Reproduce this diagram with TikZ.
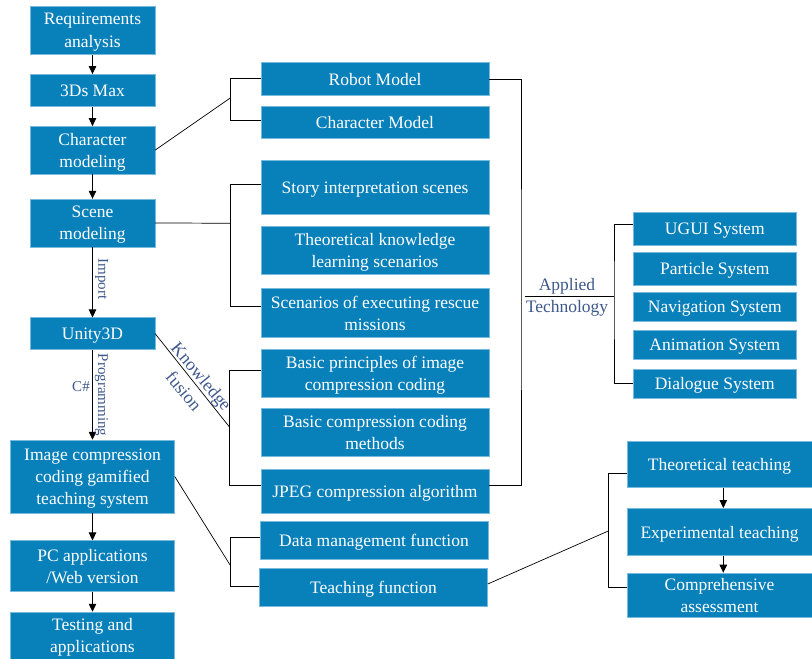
\documentclass[tikz,border=0pt]{standalone}
\usepackage{fontspec}
\setmainfont{Liberation Serif}
\usetikzlibrary{arrows.meta,calc}
\definecolor{boxblue}{RGB}{8,128,186}
\definecolor{boxedge}{RGB}{120,185,222}
\definecolor{labelblue}{RGB}{62,88,140}
\begin{document}
\begin{tikzpicture}[x=1pt,y=-1pt,
  box/.style={fill=boxblue, draw=boxedge, line width=0.5pt, text=white,
    align=center, inner sep=0pt, text depth=0pt,
    font=\fontsize{17.5}{22.3}\selectfont},
  link/.style={draw=black, line width=0.7pt},
  flow/.style={link, -{Triangle[length=8pt,width=7.5pt]}},
  tag/.style={text=labelblue, inner sep=0pt, font=\fontsize{15}{18}\selectfont},
  bigtag/.style={text=labelblue, inner sep=0pt, align=center,
    font=\fontsize{17.5}{22.3}\selectfont}]
\useasboundingbox (0,0) rectangle (812,659);

% main development flow (left column)
\node[box, minimum width=124.5pt, minimum height=48.3pt] (req) at (92.5,30.2) {Requirements\\analysis};
\node[box, minimum width=124.5pt, minimum height=32.4pt] (max) at (92.5,90.5) {3Ds Max};
\node[box, minimum width=124.5pt, minimum height=47.7pt] (char) at (92.5,150.2) {Character\\modeling};
\node[box, minimum width=124.5pt, minimum height=47.7pt] (scene) at (92.5,222.9) {Scene\\modeling};
\node[box, minimum width=124.5pt, minimum height=31.6pt] (unity) at (92.5,333.5) {Unity3D};
\node[box, minimum width=164pt, minimum height=73pt] (gam) at (92.5,476.5) {Image compression\\coding gamified\\teaching system};
\node[box, minimum width=164pt, minimum height=51pt] (pc) at (92.5,566.2) {PC applications\\/Web version};
\node[box, minimum width=164pt, minimum height=47pt] (test) at (92.5,635.5) {Testing and\\applications};

\draw[flow] (req) -- (max);
\draw[flow] (max) -- (char);
\draw[flow] (char) -- (scene);
\draw[flow] (scene) -- (unity);
\draw[flow] (unity) -- (gam);
\draw[flow] (gam) -- (pc);
\draw[flow] (pc) -- (test);

\node[tag, rotate=-90] (imp) at (101.7,279) {Import};
\node[tag, rotate=-90] (prog) at (101.5,395) {Programming};
\node[tag] (cs) at (81,387) {C\#};

% middle column
\node[box, minimum width=228pt, minimum height=33pt] (robot) at (375,79.2) {Robot Model};
\node[box, minimum width=228pt, minimum height=31.6pt] (charm) at (375,122.5) {Character Model};
\node[box, minimum width=228pt, minimum height=54.7pt] (story) at (375,187.3) {Story interpretation scenes};
\node[box, minimum width=228pt, minimum height=47.3pt] (theo) at (375,250.3) {Theoretical knowledge\\learning scenarios};
\node[box, minimum width=228pt, minimum height=48.6pt] (rescue) at (375,313) {Scenarios of executing rescue\\missions};
\node[box, minimum width=228pt, minimum height=48.7pt] (basic) at (375,373.3) {Basic principles of image\\compression coding};
\node[box, minimum width=228pt, minimum height=48.4pt] (meth) at (375,432.5) {Basic compression coding\\methods};
\node[box, minimum width=228pt, minimum height=43.3pt] (jpeg) at (375,491.3) {JPEG compression algorithm};
\node[box, minimum width=228pt, minimum height=38pt] (data) at (374,540.3) {Data management function};
\node[box, minimum width=228pt, minimum height=38pt] (teach) at (373.5,587.7) {Teaching function};

% brackets from the left column
\coordinate (cb) at (230.7,97.7);
\draw[link] (char.east) -- (cb);
\draw[link] ($(robot.west)+(0,-0.9)$) -| (cb) |- ($(charm.west)+(0,-2.5)$);

\coordinate (sb) at (230.7,223.3);
\draw[link] (scene.east) -- (sb);
\draw[link] ($(story.west)+(0,-3)$) -| (sb) |- ($(rescue.west)+(0,-7)$);

\coordinate (kb) at (229.7,427.3);
\draw[link] (unity.east) -- (kb);
\draw[link] ($(basic.west)+(0,-2.6)$) -| (kb) |- ($(jpeg.west)+(0,-5.6)$);
\node[bigtag, rotate=-50, font=\fontsize{18}{23}\selectfont] (kf) at (192.8,383.7) {Knowledge\\fusion};

\coordinate (tb) at (230.3,565.3);
\draw[link] (gam.east) -- (tb);
\draw[link] ($(data.west)+(0,-2.6)$) -| (tb) |- ($(teach.west)+(0,-1.7)$);

% applied technology
\node[box, minimum width=163pt, minimum height=33pt] (ugui) at (714.8,228.5) {UGUI System};
\node[box, minimum width=163pt, minimum height=32.7pt] (part) at (714.8,268.7) {Particle System};
\node[box, minimum width=163pt, minimum height=29pt] (nav) at (714.8,306.5) {Navigation System};
\node[box, minimum width=163pt, minimum height=28.7pt] (anim) at (714.8,344.7) {Animation System};
\node[box, minimum width=163pt, minimum height=28.3pt] (dial) at (714.8,383.8) {Dialogue System};

\coordinate (ax) at (521,296.7);
\coordinate (as) at (525,296.7);
\coordinate (ab) at (614,296.7);
\draw[link] (robot.east) -| (ax) |- ($(jpeg.east)+(0,-5.6)$);
\draw[link] (as) -- (ab);
\draw[link] ($(ugui.west)+(0,-3.8)$) -| (ab) |- (dial.west);
\node[bigtag] (apt) at (567,297.5) {Applied\\Technology};

% teaching stages
\node[box, minimum width=185pt, minimum height=46pt] (tt) at (719.5,464.7) {Theoretical teaching};
\node[box, minimum width=185pt, minimum height=47.4pt] (et) at (719.5,532) {Experimental teaching};
\node[box, minimum width=185pt, minimum height=44.7pt] (ca) at (719.5,595.3) {Comprehensive\\assessment};

\draw[flow] ($(tt.south)+(3.8,0)$) -- ($(et.north)+(3.8,0)$);
\draw[flow] ($(et.south)+(3.8,0)$) -- ($(ca.north)+(3.8,0)$);

\coordinate (eb) at (608.3,531);
\draw[link] ($(teach.east)+(0,-3.7)$) -- (eb);
\draw[link] ($(tt.west)+(0,8.6)$) -| (eb) |- ($(ca.west)+(0,-8.3)$);
\end{tikzpicture}
\end{document}
